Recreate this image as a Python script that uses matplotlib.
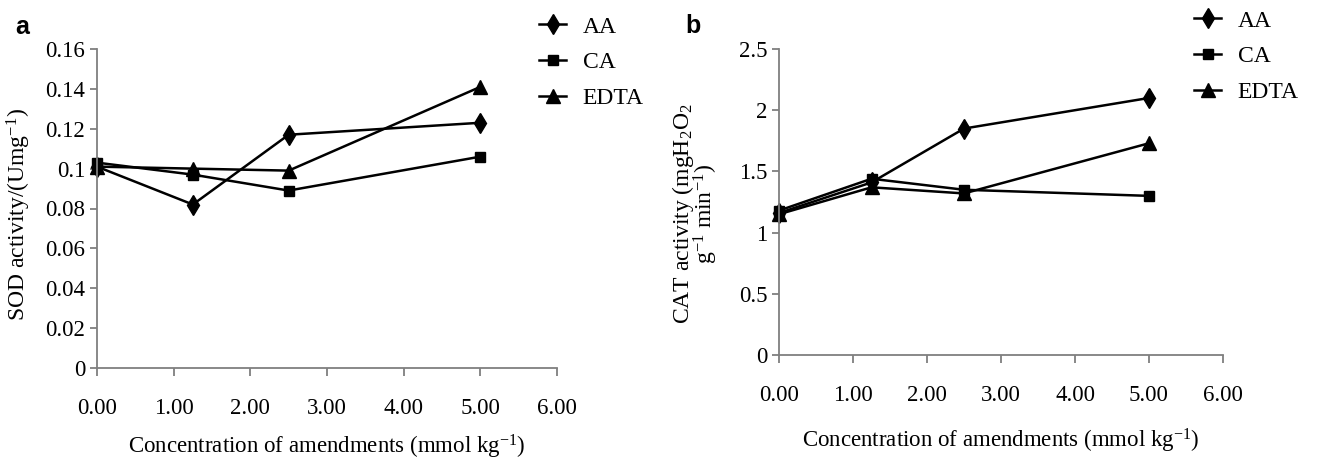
import matplotlib
matplotlib.use("Agg")
import matplotlib.pyplot as plt

plt.rcParams['font.family'] = ['Liberation Serif', 'DejaVu Serif']
plt.rcParams['mathtext.fontset'] = 'custom'
plt.rcParams['mathtext.rm'] = 'Liberation Serif'
plt.rcParams['mathtext.it'] = 'Liberation Serif:italic'

conc = [0.0, 1.25, 2.5, 5.0]
series_names = ["AA", "CA", "EDTA"]
markers = ["d", "s", "^"]

sod_aa = [0.101, 0.082, 0.117, 0.123]
sod_ca = [0.103, 0.097, 0.089, 0.106]
sod_edta = [0.101, 0.100, 0.099, 0.141]

cat_aa = [1.16, 1.41, 1.85, 2.10]
cat_ca = [1.18, 1.44, 1.35, 1.30]
cat_edta = [1.15, 1.37, 1.32, 1.73]

xticks = [0, 1, 2, 3, 4, 5, 6]
xtick_labels = ["0.00", "1.00", "2.00", "3.00", "4.00", "5.00", "6.00"]
sod_yticks = [0, 0.02, 0.04, 0.06, 0.08, 0.1, 0.12, 0.14, 0.16]
sod_ylabels = ["0", "0.02", "0.04", "0.06", "0.08", "0.1", "0.12", "0.14", "0.16"]
cat_yticks = [0, 0.5, 1, 1.5, 2, 2.5]
cat_ylabels = ["0", "0.5", "1", "1.5", "2", "2.5"]

W, H = 1317, 462
fig = plt.figure(figsize=(W / 100, H / 100), dpi=100)

FS = 16.5
GRAY = "#7f7f7f"
MS = {"d": 10, "s": 7.5, "^": 9.5}


def make_ax(l, r, t, b):
    return fig.add_axes([l / W, 1 - b / H, (r - l) / W, (b - t) / H])


def style(ax, yt, yl, ymax):
    ax.set_xlim(0, 6)
    ax.set_ylim(0, ymax)
    ax.set_xticks(xticks)
    ax.set_xticklabels(xtick_labels)
    ax.set_yticks(yt)
    ax.set_yticklabels(yl)
    for s in ["top", "right"]:
        ax.spines[s].set_visible(False)
    for s in ["left", "bottom"]:
        ax.spines[s].set_color(GRAY)
        ax.spines[s].set_linewidth(1.3)
    ax.tick_params(axis="x", direction="out", length=5.8, width=1.3, color=GRAY,
                   pad=16, labelsize=FS)
    ax.tick_params(axis="y", direction="out", length=5, width=1.3, color=GRAY,
                   pad=3.5, labelsize=FS)


def legend(ax, x, y):
    ax.legend(loc="upper left", bbox_to_anchor=(x / W, 1 - y / H),
              bbox_transform=fig.transFigure, frameon=False, fontsize=17,
              handlelength=1.15, handletextpad=0.7, labelspacing=0.6,
              borderpad=0, borderaxespad=0)


def draw(ax, series):
    for vals, m, n in zip(series, markers, series_names):
        ax.plot(conc, vals, color="black", marker=m, markersize=MS[m],
                linewidth=1.8, label=n, clip_on=False)


# Panel a
axa = make_ax(97, 557, 49, 368)
draw(axa, [sod_aa, sod_ca, sod_edta])
style(axa, sod_yticks, sod_ylabels, 0.16)
axa.set_ylabel("SOD activity/(Umg$^{-1}$)", fontsize=17)
axa.yaxis.set_label_coords(-(97 - 33) / 460, (368 - 215) / 319)
axa.set_xlabel("Concentration of amendments (mmol kg$^{-1}$)", fontsize=FS, labelpad=10)
legend(axa, 539, 16)

# Panel b
axb = make_ax(779, 1223, 49, 355)
draw(axb, [cat_aa, cat_ca, cat_edta])
style(axb, cat_yticks, cat_ylabels, 2.5)
axb.set_ylabel("CAT activity (mgH$_2$O$_2$\ng$^{-1}$ min$^{-1}$)", fontsize=17,
               linespacing=0.8)
axb.yaxis.set_label_coords(-(779 - 720) / 444, (355 - 214) / 306)
axb.set_xlabel("Concentration of amendments (mmol kg$^{-1}$)", fontsize=FS, labelpad=15)
legend(axb, 1194, 10)

fig.text(15 / W, 1 - 27 / H, "a", fontsize=18, fontweight="bold",
         family=["Liberation Sans", "DejaVu Sans"], va="center", ha="left")
fig.text(685 / W, 1 - 26 / H, "b", fontsize=18, fontweight="bold",
         family=["Liberation Sans", "DejaVu Sans"], va="center", ha="left")

fig.savefig("out.png", dpi=100)
